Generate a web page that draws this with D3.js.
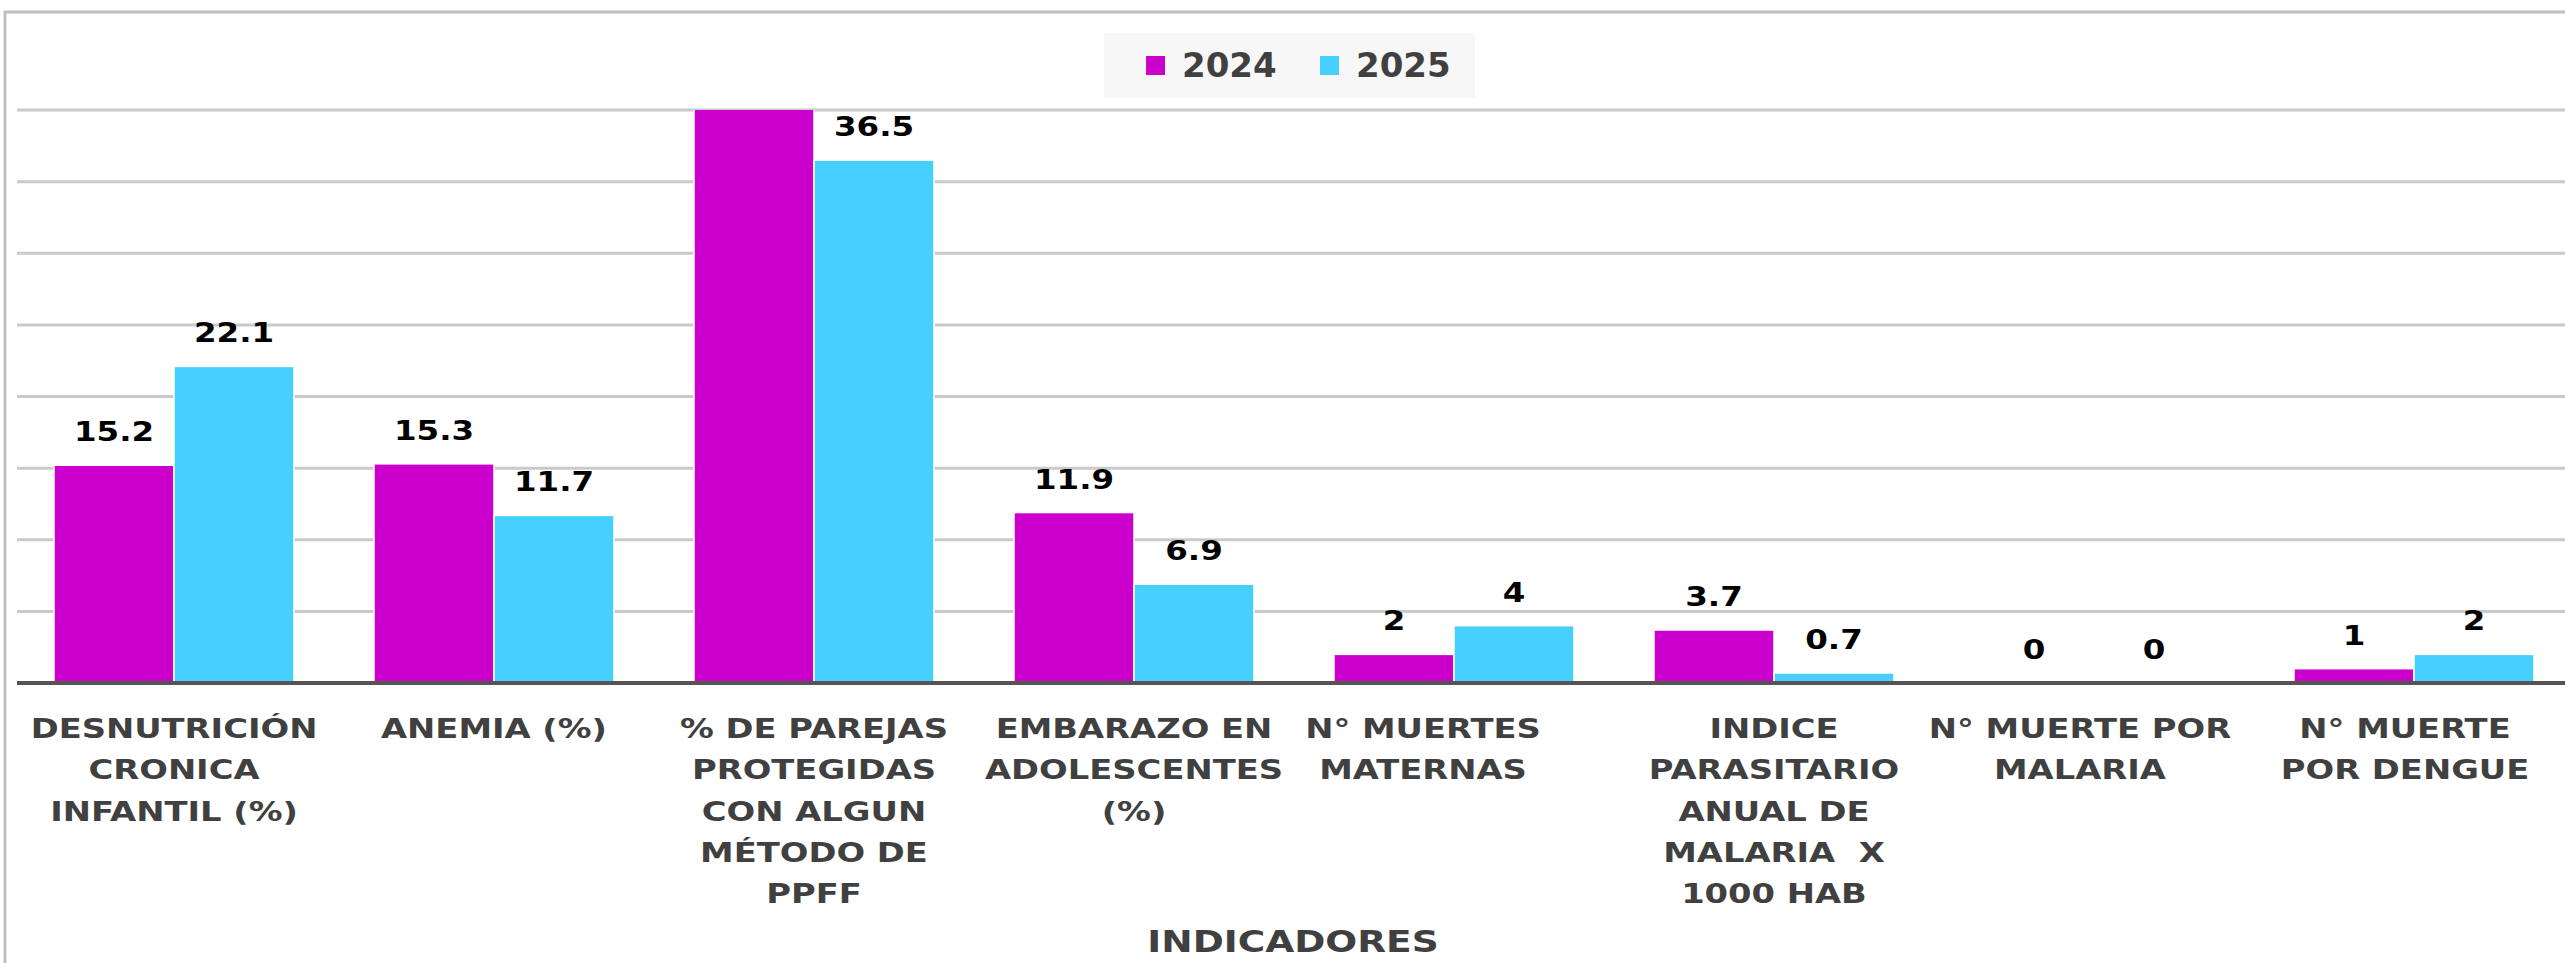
<!DOCTYPE html>
<html>
<head>
<meta charset="utf-8">
<script src="https://cdn.jsdelivr.net/npm/d3@7"></script>
<style>
  html, body { margin: 0; padding: 0; background: #fff; overflow: hidden; }
</style>
</head>
<body>
<div id="container"></div>
<script>
// Data
const categories = ['desnutricion', 'anemia', 'parejas', 'embarazo', 'muertesMat', 'indiceMal', 'muerteMal', 'muerteDen'];
const categoryLabels = [
  ['DESNUTRICIÓN', 'CRONICA', 'INFANTIL (%)'],
  ['ANEMIA (%)'],
  ['% DE PAREJAS', 'PROTEGIDAS', 'CON ALGUN', 'MÉTODO DE', 'PPFF'],
  ['EMBARAZO EN', 'ADOLESCENTES', '(%)'],
  ['N° MUERTES', 'MATERNAS'],
  ['INDICE', 'PARASITARIO', 'ANUAL DE', 'MALARIA  X', '1000 HAB'],
  ['N° MUERTE POR', 'MALARIA'],
  ['N° MUERTE', 'POR DENGUE']
];
const years = ['2024', '2025'];
// 2024 value for "% de parejas" runs past the top of the axis, estimated
const values2024 = [15.2, 15.3, 41.5, 11.9, 2, 3.7, 0, 1];
const values2025 = [22.1, 11.7, 36.5, 6.9, 4, 0.7, 0, 2];
const yTicks = [5, 10, 15, 20, 25, 30, 35, 40];
const axisTitle = 'INDICADORES';

const colors = { '2024': '#CC00CC', '2025': '#47D0FF' };
const font = "'DejaVu Sans', sans-serif";
const sx = 1.25; // text in the source is drawn wide

const W = 2565, H = 963;
const svg = d3.select('#container').append('svg')
  .attr('width', W)
  .attr('height', H);

// Scales
const xScale = d3.scaleBand().domain(categories).range([14, 2574])
  .paddingInner(0.25).paddingOuter(0.125);
const xSub = d3.scaleBand().domain(years).range([0, xScale.bandwidth()]);
const yScale = d3.scaleLinear().domain([0, 40]).range([683, 110]);

// Outer frame (top and left visible)
svg.append('path')
  .attr('d', `M5,${H} V12 H${W}`)
  .attr('fill', 'none')
  .attr('stroke', '#bfbfbf')
  .attr('stroke-width', 3);

// Gridlines
svg.append('g').selectAll('line')
  .data(yTicks)
  .join('line')
  .attr('x1', 17).attr('x2', W)
  .attr('y1', d => yScale(d)).attr('y2', d => yScale(d))
  .attr('stroke', '#cacaca')
  .attr('stroke-width', 3);

// Clip to plot area
svg.append('clipPath').attr('id', 'plot')
  .append('rect')
  .attr('x', 0).attr('y', yScale(40))
  .attr('width', W).attr('height', yScale(0) - yScale(40));

const rows = categories.map((c, i) => ({ c, i, v: { '2024': values2024[i], '2025': values2025[i] } }));
const barData = rows.flatMap(r => years.map(y => ({ c: r.c, year: y, v: r.v[y] })));

// Bars
svg.append('g').attr('clip-path', 'url(#plot)')
  .selectAll('rect')
  .data(barData.filter(d => d.v > 0))
  .join('rect')
  .attr('x', d => xScale(d.c) + xSub(d.year))
  .attr('width', xSub.bandwidth())
  .attr('y', d => yScale(d.v))
  .attr('height', d => yScale(0) - yScale(d.v))
  .attr('fill', d => colors[d.year])
  .attr('stroke', '#fff')
  .attr('stroke-width', 1.5);

// Baseline
svg.append('line')
  .attr('x1', 17).attr('x2', W)
  .attr('y1', yScale(0)).attr('y2', yScale(0))
  .attr('stroke', '#555')
  .attr('stroke-width', 4);

// Value labels (hidden when the bar runs off the axis)
svg.append('g').selectAll('text')
  .data(barData.filter(d => d.v <= yScale.domain()[1]))
  .join('text')
  .attr('transform', d => `translate(${xScale(d.c) + xSub(d.year) + xSub.bandwidth() / 2},${yScale(d.v) - 24}) scale(${sx},1)`)
  .attr('text-anchor', 'middle')
  .attr('font-family', font)
  .attr('font-weight', 'bold')
  .attr('font-size', 26)
  .attr('fill', '#000')
  .text(d => d3.format('~f')(d.v));

// Category labels
const labelShift = [0, 0, 0, 0, -31, 0, -14, -9];
const lineH = 41.3;
const cat = svg.append('g').selectAll('g')
  .data(rows)
  .join('g')
  .attr('transform', d => `translate(${xScale(d.c) + xScale.bandwidth() / 2 + labelShift[d.i]},738)`);
cat.selectAll('text')
  .data(d => categoryLabels[d.i])
  .join('text')
  .attr('transform', (d, j) => `translate(0,${j * lineH}) scale(${sx},1)`)
  .attr('text-anchor', 'middle')
  .attr('font-family', font)
  .attr('font-weight', 'bold')
  .attr('font-size', 27)
  .attr('fill', '#404040')
  .style('white-space', 'pre')
  .text(d => d);

// Axis title
svg.append('text')
  .attr('transform', `translate(1293,952) scale(${sx},1)`)
  .attr('text-anchor', 'middle')
  .attr('font-family', font)
  .attr('font-weight', 'bold')
  .attr('font-size', 30)
  .attr('fill', '#404040')
  .text(axisTitle);

// Legend
const legend = svg.append('g');
legend.append('rect')
  .attr('x', 1104).attr('y', 33)
  .attr('width', 371).attr('height', 65)
  .attr('fill', '#f7f7f7');
const legX = d3.scaleOrdinal().domain(years).range([1146, 1320]);
const items = legend.selectAll('g.item')
  .data(years)
  .join('g')
  .attr('class', 'item')
  .attr('transform', d => `translate(${legX(d)},0)`);
items.append('rect')
  .attr('x', 0).attr('y', 56)
  .attr('width', 19).attr('height', 19)
  .attr('fill', d => colors[d]);
items.append('text')
  .attr('x', 36).attr('y', 77)
  .attr('font-family', font)
  .attr('font-weight', 'bold')
  .attr('font-size', 34)
  .attr('fill', '#404040')
  .text(d => d);
</script>
</body>
</html>
